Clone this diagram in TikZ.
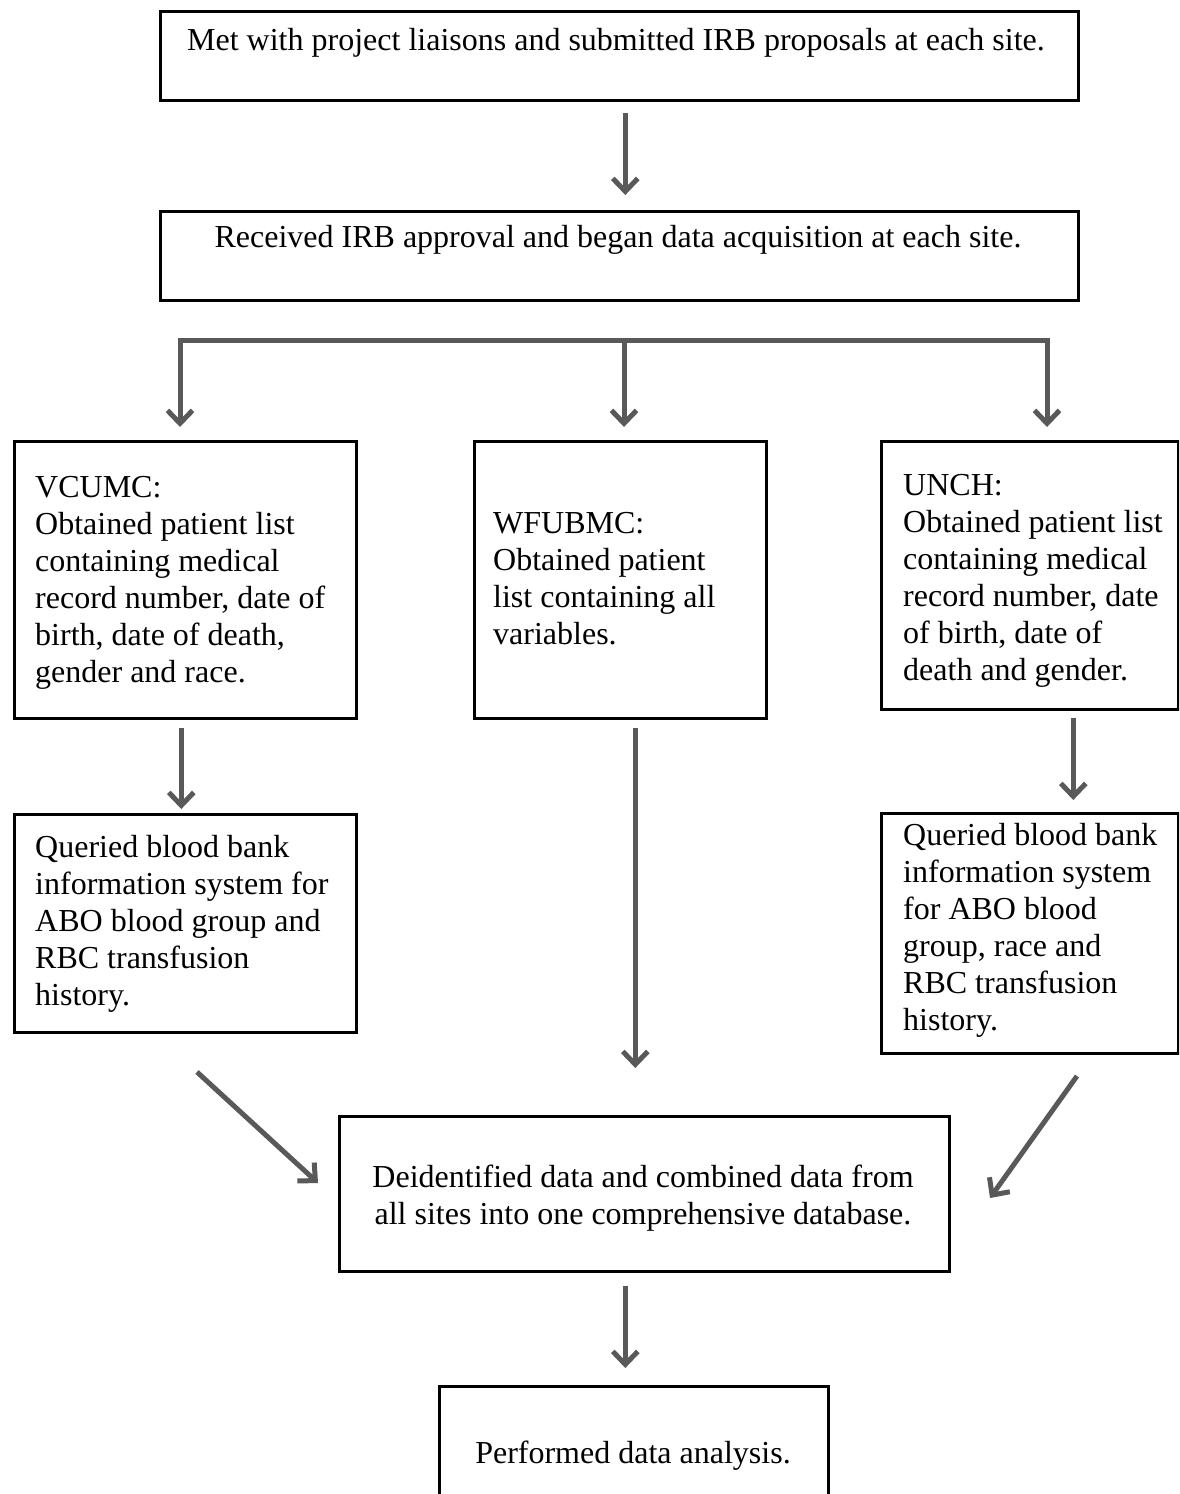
\documentclass[tikz,border=0pt]{standalone}
\usepackage{fontspec}
\setmainfont{Liberation Serif}
\usetikzlibrary{arrows.meta}
\definecolor{arrgray}{HTML}{595959}
\newcommand{\txl}[1]{\begin{tabular}[t]{@{}l@{}}#1\end{tabular}}
\newcommand{\txc}[1]{\begin{tabular}[t]{@{}c@{}}#1\end{tabular}}
\begin{document}
\begin{tikzpicture}[x=1pt,y=-1pt,
  box/.style={draw=black,line width=2.6pt,rectangle,inner sep=0pt,anchor=north west},
  txt/.style={inner sep=0pt,font=\fontsize{32}{37}\selectfont},
  conn/.style={draw=arrgray,line width=5pt},
  arr/.style={conn,-{Straight Barb[length=13pt,width=25pt]}}]
\path[use as bounding box,clip] (0,0) rectangle (1179,1494);
\fill[white] (0,0) rectangle (1179,1494);

% boxes
\node[box,minimum width=918pt,minimum height=89pt] (b1) at (159,10) {};
\node[box,minimum width=918pt,minimum height=89pt] (b2) at (159,210) {};
\node[box,minimum width=342pt,minimum height=277pt] (v1) at (13,440) {};
\node[box,minimum width=292pt,minimum height=277pt] (w1) at (473,440) {};
\node[box,minimum width=297pt,minimum height=268pt] (u1) at (880,440) {};
\node[box,minimum width=342pt,minimum height=218pt] (v2) at (13,813) {};
\node[box,minimum width=297pt,minimum height=240pt] (u2) at (880,812) {};
\node[box,minimum width=610pt,minimum height=155pt] (d) at (338,1115) {};
\node[box,minimum width=389pt,minimum height=140pt] (p) at (438,1385) {};

% texts
\node[txt,anchor=base] (t1) at (616,50) {Met with project liaisons and submitted IRB proposals at each site.};
\node[txt,anchor=base] (t2) at (618,247) {Received IRB approval and began data acquisition at each site.};
\node[txt,anchor=base west] (tv1) at (35,497) {\txl{VCUMC:\\Obtained patient list\\containing medical\\record number, date of\\birth, date of death,\\gender and race.}};
\node[txt,anchor=base west] (tw1) at (493,533) {\txl{WFUBMC:\\Obtained patient\\list containing all\\variables.}};
\node[txt,anchor=base west] (tu1) at (903,495) {\txl{UNCH:\\Obtained patient list\\containing medical\\record number, date\\of birth, date of\\death and gender.}};
\node[txt,anchor=base west] (tv2) at (35,857) {\txl{Queried blood bank\\information system for\\ABO blood group and\\RBC transfusion\\history.}};
\node[txt,anchor=base west] (tu2) at (903,845) {\txl{Queried blood bank\\information system\\for ABO blood\\group, race and\\RBC transfusion\\history.}};
\node[txt,anchor=base] (td) at (643,1187) {\txc{Deidentified data and combined data from\\all sites into one comprehensive database.}};
\node[txt,anchor=base] (tp) at (633,1463) {Performed data analysis.};

% connectors
\draw[arr,shorten <=11pt,shorten >=15pt] ([xshift=6pt]b1.south) -- ([xshift=6pt]b1.south |- b2.north);

\coordinate (bl) at (180,340);
\coordinate (bm) at (624,340);
\coordinate (bre) at (1047,340);
\draw[conn,line cap=rect] (bl) -- (bre);
\draw[arr,shorten >=13pt] (bl) -- (bl |- v1.north);
\draw[arr,shorten >=13pt] (bm) -- (bm |- w1.north);
\draw[arr,shorten >=13pt] (bre) -- (bre |- u1.north);

\draw[arr,shorten <=8pt,shorten >=4pt] ([xshift=-4pt]v1.south) -- ([xshift=-4pt]v1.south |- v2.north);
\draw[arr,shorten <=8pt,shorten >=47pt] ([xshift=15pt]w1.south) -- ([xshift=15pt]w1.south |- d.north);
\draw[arr,shorten <=7pt,shorten >=12pt] ([xshift=43.5pt]u1.south) -- ([xshift=43.5pt]u1.south |- u2.north);

\coordinate (dla) at (197,1072);
\coordinate (dlb) at (318,1183);
\coordinate (dra) at (1077,1076);
\coordinate (drb) at (990,1198);
\draw[arr] (dla) -- (dlb);
\draw[arr] (dra) -- (drb);

\draw[arr,shorten <=13pt,shorten >=17pt] ([xshift=-19pt]d.south) -- ([xshift=-19pt]d.south |- p.north);
\end{tikzpicture}
\end{document}
